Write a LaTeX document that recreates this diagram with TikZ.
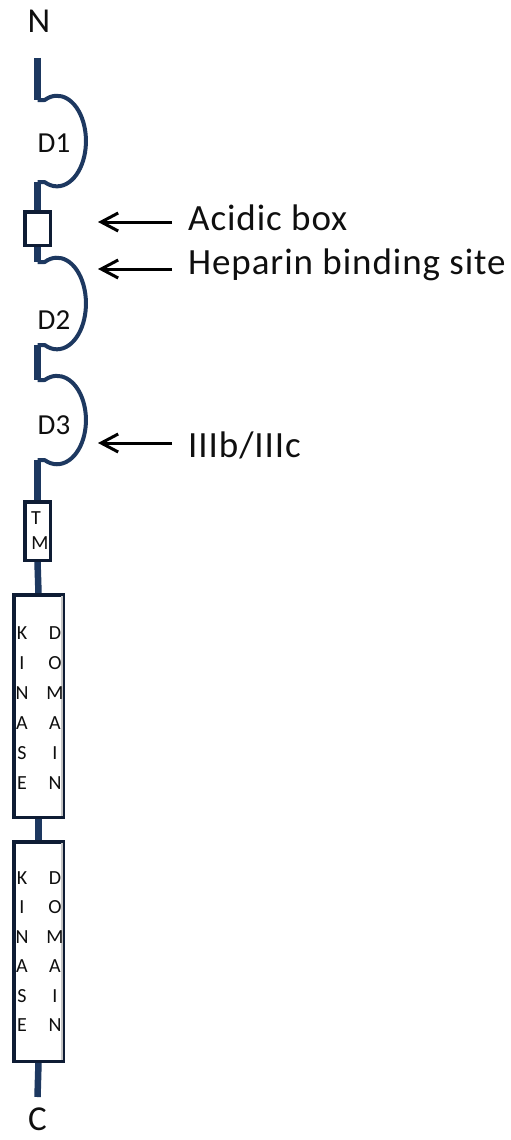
\documentclass[tikz,border=0pt]{standalone}
\usepackage{fontspec}
\setmainfont{Carlito}
\newfontfamily\lblfont[LetterSpace=2.5]{Carlito}
\usetikzlibrary{arrows.meta}
\definecolor{chain}{RGB}{29,56,96}
\definecolor{boxline}{RGB}{14,28,52}
\definecolor{txt}{RGB}{15,15,15}
\begin{document}
\begin{tikzpicture}[x=1pt,y=-1pt,
  stub/.style={draw=chain,line width=6.5pt},
  dom/.style={draw=chain,line width=4pt,line join=round},
  pbox/.style={draw=boxline,line width=3.5pt,fill=white,rectangle,inner sep=0pt},
  lbl/.style={font=\lblfont\fontsize{37}{40}\selectfont,text=txt,inner sep=0pt,anchor=base west},
  dlbl/.style={font=\fontsize{29}{30}\selectfont,text=txt,inner sep=0pt},
  klet/.style={font=\fontsize{20}{20}\selectfont,text=txt,inner sep=0pt},
  endlbl/.style={font=\fontsize{35}{38}\selectfont,text=txt,inner sep=0pt,anchor=base},
  arr/.style={draw=black,line width=3pt,-{Straight Barb[length=17pt,width=18pt,line width=3pt]}}]
\useasboundingbox (0,0) rectangle (511,1140);
% coordinates on the chain
\coordinate (Ntop) at (37.5,58);
\coordinate (d1a) at (37.5,100);
\coordinate (d1b) at (37.5,182);
\coordinate (d2a) at (37.5,262);
\coordinate (d2b) at (37.5,345);
\coordinate (d3a) at (37.5,380);
\coordinate (d3b) at (37.5,460);
\coordinate (Cbot) at (37.5,1097);
% boxes
\node[pbox,minimum width=25.5pt,minimum height=33.5pt] (acid) at (37.5,228.5) {};
\node[pbox,minimum width=25.5pt,minimum height=58.5pt] (tm) at (37.5,531) {};
\node[pbox,minimum width=49.5pt,minimum height=222.5pt] (kd1) at (38.5,706) {};
\node[pbox,minimum width=49.5pt,minimum height=219.5pt] (kd2) at (38.5,951.5) {};
% stubs
\draw[stub] (Ntop) -- (d1a);
\draw[stub] (d1b) -- (acid.north);
\draw[stub] (acid.south) -- (d2a);
\draw[stub] (d2b) -- (d3a);
\draw[stub] (d3b) -- (tm.north);
\draw[stub] (tm.south) -- (kd1.north);
\draw[stub] (kd1.south) -- (kd2.north);
\draw[stub] (kd2.south) -- (Cbot);
% redraw boxes on top of stubs
\node[pbox,minimum width=25.5pt,minimum height=33.5pt] at (acid) {};
\node[pbox,minimum width=25.5pt,minimum height=58.5pt] at (tm) {};
\node[pbox,minimum width=49.5pt,minimum height=222.5pt] at (kd1) {};
\node[pbox,minimum width=49.5pt,minimum height=219.5pt] at (kd2) {};
\draw[gray!45,line width=2pt] ([xshift=-3.5pt,yshift=-3pt]kd1.north east) -- ([xshift=-3.5pt,yshift=3pt]kd1.south east);
\draw[gray!45,line width=2pt] ([xshift=-3.5pt,yshift=-3pt]kd2.north east) -- ([xshift=-3.5pt,yshift=3pt]kd2.south east);
% Ig-like domains
\draw[dom] (d1a) -- ++(7.2,0) arc[start angle=-115,end angle=115,x radius=29,y radius=45.3] -- (d1b);
\draw[dom] (d2a) -- ++(7.2,0) arc[start angle=-115,end angle=115,x radius=29,y radius=45.8] -- (d2b);
\draw[dom] (d3a) -- ++(7.2,0) arc[start angle=-115,end angle=115,x radius=29,y radius=44.2] -- (d3b);
\node[dlbl] (D1) at (54,143) {D1};
\node[dlbl] (D2) at (54,320) {D2};
\node[dlbl] (D3) at (54,425) {D3};
% ends
\node[endlbl] (N) at (39,33) {N};
\node[endlbl] (C) at (37.5,1130) {C};
% TM letters
\node[klet] (tmT) at (36,518) {T};
\node[klet] (tmM) at (40,543) {M};
% kinase letters
\foreach \l [count=\i] in {K,I,N,A,S,E} {
  \node[klet] (ka\i) at (22,603+30*\i) {\l};
  \node[klet] (kb\i) at (22,848.5+29.5*\i) {\l};
}
\foreach \l [count=\i] in {D,O,M,A,I,N} {
  \node[klet] (kc\i) at (55,603+30*\i) {\l};
  \node[klet] (kd\i) at (55,848.5+29.5*\i) {\l};
}
% labels and arrows
\node[lbl] (acidlbl) at (188,230) {Acidic box};
\node[lbl] (heplbl) at (188,274) {Heparin binding site};
\node[lbl] (splbl) at (188,457) {IIIb/IIIc};
\coordinate (a1s) at (172,222); \coordinate (a1e) at (98,222);
\coordinate (a2s) at (172,269); \coordinate (a2e) at (98,269);
\coordinate (a3s) at (172,443); \coordinate (a3e) at (98,443);
\draw[arr] (a1s) -- (a1e);
\draw[arr] (a2s) -- (a2e);
\draw[arr] (a3s) -- (a3e);
\end{tikzpicture}
\end{document}
